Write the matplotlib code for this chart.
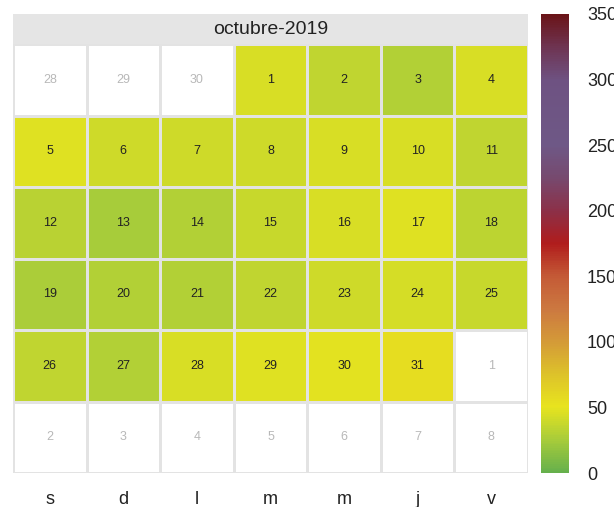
import numpy as np
import matplotlib.pyplot as plt
from matplotlib.colors import LinearSegmentedColormap, Normalize
from matplotlib.patches import Rectangle
import matplotlib.cm as cm

plt.rcParams['font.family'] = ['Liberation Sans', 'DejaVu Sans']

# calendar data: octubre-2019
month_title = 'octubre-2019'
weekday_labels = ['s', 'd', 'l', 'm', 'm', 'j', 'v']
days_prev = [28, 29, 30]           # days of previous month shown in first row
days_next = [1, 2, 3, 4, 5, 6, 7, 8]  # days of next month shown at the end
# daily values, Oct 1 .. Oct 31
values = [45, 35, 30, 45, 47, 40, 40, 41, 45, 45, 35, 32, 25, 30, 38,
          45, 47, 33, 27, 30, 30, 35, 41, 43, 37, 35, 30, 45, 47, 49, 55]
cbar_ticks = [0, 50, 100, 150, 200, 250, 300, 350]

stops = [(0, '#66b04c'), (25, '#a8cc3a'), (50, '#e8e41e'), (75, '#ddc22a'),
         (100, '#d49a38'), (125, '#cc7840'), (150, '#c45a36'), (175, '#b01c1c'),
         (200, '#8c3048'), (225, '#77496e'), (250, '#6e5886'), (300, '#6e5282'),
         (325, '#6e3452'), (350, '#6a1418')]
cmap = LinearSegmentedColormap.from_list('cal', [(v / 350, c) for v, c in stops])
norm = Normalize(0, 350)

fig = plt.figure(figsize=(6.14, 5.07), dpi=100)
ax = fig.add_axes([13 / 614, 34 / 507, 515 / 614, 459 / 507])
hdr = 30 / 71.5

# build the cell grid
grid = np.full((6, 7), np.nan)
labels = [[''] * 7 for _ in range(6)]
inmonth = np.zeros((6, 7), bool)
seq = [(d, None) for d in days_prev] + [(i + 1, v) for i, v in enumerate(values)] + [(d, None) for d in days_next]
for k, (d, v) in enumerate(seq):
    r, c = divmod(k, 7)
    labels[r][c] = str(d)
    if v is not None:
        grid[r, c] = v
        inmonth[r, c] = True

cm_masked = cmap.copy()
cm_masked.set_bad('white')
ax.pcolormesh(np.arange(8), np.arange(7), np.ma.masked_invalid(grid), cmap=cm_masked,
              norm=norm, edgecolors='#e3e3e3', linewidth=1.0)
for r in range(6):
    for c in range(7):
        ax.text(c + 0.5, r + 0.5, labels[r][c], ha='center', va='center', fontsize=9,
                color='#222222' if inmonth[r, c] else '#b8b8b8')

ax.add_patch(Rectangle((0, -hdr), 7, hdr, facecolor='#e5e5e5', edgecolor='none', clip_on=False))
ax.text(3.5, -hdr / 2, month_title, ha='center', va='center', fontsize=14, color='#222222')
ax.set_xlim(0, 7)
ax.set_ylim(6, -hdr)
ax.set_xticks(np.arange(7) + 0.5)
ax.set_xticklabels(weekday_labels, fontsize=13, color='#222222')
ax.tick_params(length=0, pad=13)
ax.set_yticks([])
for s in ax.spines.values():
    s.set_visible(False)

cax = fig.add_axes([541 / 614, 34 / 507, 28 / 614, 459 / 507])
cb = fig.colorbar(cm.ScalarMappable(norm=norm, cmap=cmap), cax=cax, ticks=cbar_ticks)
cb.outline.set_visible(False)
cax.tick_params(length=0, pad=13, labelsize=13, labelcolor='#222222')

fig.savefig('out.png', dpi=100)
